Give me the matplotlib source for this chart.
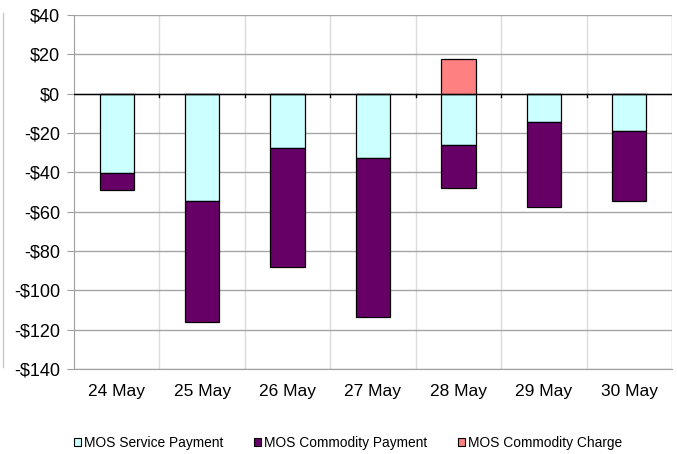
import matplotlib.pyplot as plt
from matplotlib.lines import Line2D
from matplotlib.ticker import FuncFormatter
import numpy as np

plt.rcParams['font.family'] = ['Liberation Sans', 'DejaVu Sans']

days = ['24 May', '25 May', '26 May', '27 May', '28 May', '29 May', '30 May']
service_payment = [-40.5, -54.5, -27.5, -32.5, -26, -14.5, -19]
commodity_payment = [-8.5, -61.5, -60.5, -81, -22, -43, -35.5]
commodity_charge = [0, 0, 0, 0, 17.5, 0, 0]

c_service = '#CCFFFF'
c_payment = '#660066'
c_charge = '#FF8080'

fig = plt.figure(figsize=(6.77, 4.54), dpi=100)
ax = fig.add_axes([74 / 677, 1 - 369 / 454, 598 / 677, 354 / 454])

x = np.arange(len(days))
width = 0.4

ax.bar(x, service_payment, width=width, color=c_service, edgecolor='black', linewidth=0.9, zorder=3)
ax.bar(x, commodity_payment, width=width, bottom=service_payment, color=c_payment,
       edgecolor='black', linewidth=0.9, zorder=3)
ax.bar(x, commodity_charge, width=width, color=c_charge, edgecolor='black', linewidth=0.9, zorder=3)

ax.set_xlim(-0.5, len(days) - 0.5)
ax.set_ylim(-140, 40)
ax.set_yticks(np.arange(-140, 41, 20))
ax.yaxis.set_major_formatter(FuncFormatter(lambda v, p: ('-$%d' % -v) if v < 0 else '$%d' % v))
ax.set_xticks(x)
ax.set_xticklabels(days)

# grid: horizontal solid grey, vertical light at category borders
ax.grid(axis='y', color='#a6a6a6', linewidth=1, zorder=0)
for b in np.arange(0.5, len(days) - 1, 1):
    ax.axvline(b, color='#dcdcdc', linewidth=1, zorder=0)
    ax.plot([b, b], [0, -1.6], color='black', linewidth=1, zorder=4)

ax.axhline(0, color='black', linewidth=1, zorder=4)

for s in ['top', 'right']:
    ax.spines[s].set_visible(False)
ax.spines['left'].set_color('#a0a0a0')
ax.spines['bottom'].set_color('#a0a0a0')
ax.axvline(len(days) - 0.5, color='#c8c8c8', linewidth=1, zorder=0)

ax.tick_params(axis='y', length=5, color='#a0a0a0', labelsize=13, pad=5)
ax.tick_params(axis='x', length=0, labelsize=12.5, pad=11)

# fragment of a neighbouring element at the left edge
fig.add_artist(Line2D([3 / 677, 3 / 677], [1 - 13 / 454, 1 - 367 / 454],
                      color='#c8c8c8', linewidth=1))

handles = [plt.Rectangle((0, 0), 1, 1, facecolor=c, edgecolor='black', linewidth=0.8)
           for c in (c_service, c_payment, c_charge)]
fig.legend(handles, ['MOS Service Payment', 'MOS Commodity Payment', 'MOS Commodity Charge'],
           loc='center', bbox_to_anchor=(348 / 677, 1 - 443 / 454), ncol=3, frameon=False,
           fontsize=9.9, handlelength=0.55, handleheight=0.55, handletextpad=0.2,
           columnspacing=2.2)

fig.savefig('out.png', dpi=100)
